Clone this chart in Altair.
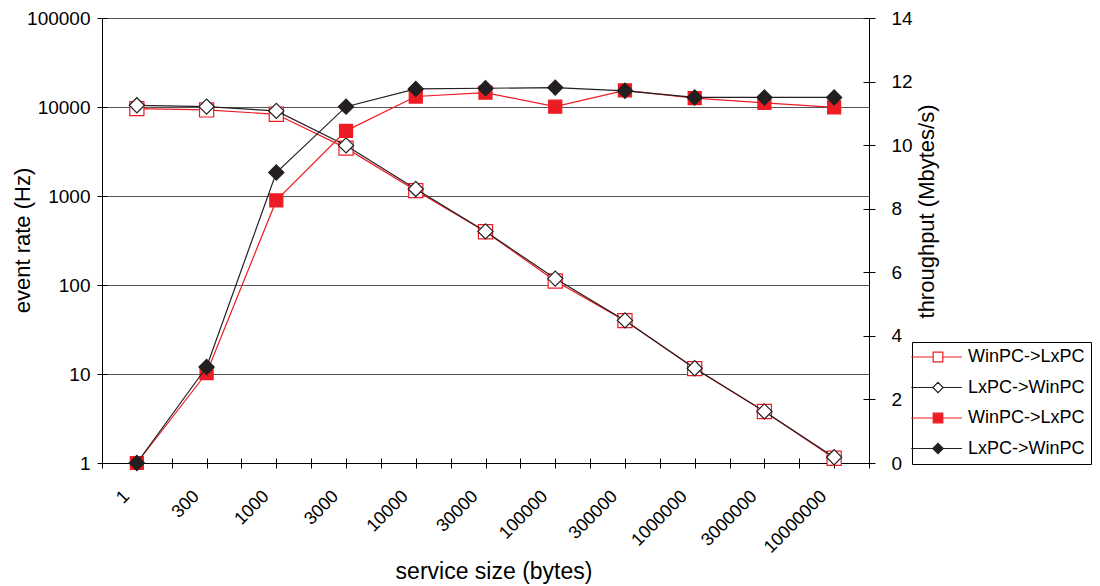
import altair as alt
import pandas as pd

# ---------------- data ----------------
sizes = ["1", "300", "1000", "3000", "10000", "30000", "100000",
         "300000", "1000000", "3000000", "10000000"]
rate_win_lx = [9600, 9270, 8280, 3450, 1150, 397, 111, 39.8, 11.5, 3.79, 1.13]
rate_lx_win = [10450, 10100, 9040, 3700, 1200, 400, 118, 40.0, 11.6, 3.80, 1.16]
tput_win_lx = [0, 2.83, 8.26, 10.45, 11.53, 11.65, 11.21, 11.72, 11.48, 11.33, 11.19]
tput_lx_win = [0, 3.02, 9.14, 11.21, 11.77, 11.79, 11.81, 11.71, 11.50, 11.50, 11.50]
legend_keys = ["a", "b", "c", "d"]
legend_labels = ["WinPC->LxPC", "LxPC->WinPC", "WinPC->LxPC", "LxPC->WinPC"]
rate_ticks = [1, 10, 100, 1000, 10000, 100000]
tput_ticks = [0, 2, 4, 6, 8, 10, 12, 14]

RED = "#ED1C24"
BLK = "#231F20"
FONT = "Liberation Sans"
W, H = 767, 445

df = pd.DataFrame({
    "idx": list(range(len(sizes))),
    "rw": rate_win_lx, "rl": rate_lx_win,
    "tw": tput_win_lx, "tl": tput_lx_win,
})

n = len(sizes)
label_js = "[" + ",".join(f"'{s}'" for s in sizes) + "]"
x_axis = alt.Axis(
    values=[i * 0.5 - 0.5 for i in range(2 * n + 1)],
    labelExpr=f"datum.value % 1 == 0 ? {label_js}[datum.value] : ''",
    labelAngle=315, labelAlign="right", labelBaseline="top",
    labelFont=FONT, labelFontSize=18, labelColor="black",
    labelPadding=19, labelOffset=-17,
    labelOverlap=False, labelFlush=False, labelBound=False,
    offset=-5, tickSize=10, tickColor="black", domain=False,
    grid=True, gridColor="black", gridWidth=1,
    gridOpacity=alt.condition(f"datum.value == -0.5 || datum.value == {n - 0.5}",
                              alt.value(1), alt.value(0)),
    title="service size (bytes)", titleFont=FONT, titleFontSize=23,
    titleFontWeight="normal", titleColor="black",
    titleX=391.5, titleY=120, titleAlign="center", titleBaseline="alphabetic",
)
x_enc = alt.X("idx:Q", scale=alt.Scale(domain=[-0.5, n - 0.5], nice=False, zero=False), axis=x_axis)

rate_axis = alt.Axis(
    values=rate_ticks, format="d", grid=True, gridWidth=1,
    gridColor=alt.condition("datum.value == 1", alt.value("black"), alt.value("#555555")),
    offset=-5, tickSize=10, tickColor="black", domain=False,
    labelFont=FONT, labelFontSize=19, labelColor="black", labelPadding=7,
    title="event rate (Hz)", titleFont=FONT, titleFontSize=22,
    titleFontWeight="normal", titleColor="black", titleAngle=270,
    titleX=-85, titleY=222, titleAlign="center", titleBaseline="middle",
)
rate_scale = alt.Scale(type="log", domain=[1, 100000], nice=False)

tput_axis = alt.Axis(
    orient="right", values=tput_ticks, grid=False,
    offset=-6, tickSize=12, tickColor="black", domain=False,
    labelFont=FONT, labelFontSize=19, labelColor="black", labelPadding=16,
    title="throughput (Mbytes/s)", titleFont=FONT, titleFontSize=22,
    titleFontWeight="normal", titleColor="black", titleAngle=270,
    titleX=63, titleY=193, titleAlign="center", titleBaseline="middle",
)
tput_scale = alt.Scale(domain=[0, 14], nice=False, zero=True)

base = alt.Chart(df)


def series(field, scale, axis, color, shape, filled, size):
    y = alt.Y(f"{field}:Q", scale=scale, axis=axis)
    line = base.mark_line(color=color, strokeWidth=1.2).encode(x=x_enc, y=y)
    pts = base.mark_point(
        shape=shape, filled=True, fill=(color if filled else "white"),
        stroke=color, strokeWidth=1.2, size=size, opacity=1,
    ).encode(x=x_enc, y=y)
    return [line, pts]


rate_layer = alt.layer(
    *series("rw", rate_scale, rate_axis, RED, "square", False, 200),
    *series("rl", rate_scale, rate_axis, BLK, "diamond", False, 230),
)
tput_layer = alt.layer(
    *series("tw", tput_scale, tput_axis, RED, "square", True, 170),
    *series("tl", tput_scale, tput_axis, BLK, "diamond", True, 230),
)

# legend: line with marker, drawn as custom symbol paths
p_sq = "M-1.35,0H1.4M2.6,0H5M1.4,-0.6H2.6V0.6H1.4Z"
p_di = "M-1.35,0H1.35M2.65,0H5M2,-0.65L2.65,0L2,0.65L1.35,0Z"
legend_paths = [p_sq, p_di, p_sq, p_di]
lab_js = "[" + ",".join(f"'{s}'" for s in legend_labels) + "]"
key_js = "[" + ",".join(f"'{s}'" for s in legend_keys) + "]"
leg = alt.Legend(
    orient="none", legendX=810, legendY=324, title=None,
    strokeColor="black", fillColor="white", padding=6,
    labelFont=FONT, labelFontSize=18, labelColor="black",
    symbolSize=256, symbolOffset=-5, labelOffset=37,
    labelExpr=f"{lab_js}[indexof({key_js}, datum.value)]",
    symbolStrokeWidth=1.2, rowPadding=12.5,
)
leg_df = pd.DataFrame({"key": legend_keys})
legend_layer = alt.Chart(leg_df).transform_filter("false").mark_point(
    filled=True, strokeWidth=1.2, size=256, opacity=1
).encode(
    shape=alt.Shape("key:N", scale=alt.Scale(domain=legend_keys, range=legend_paths), legend=leg),
    stroke=alt.Stroke("key:N", scale=alt.Scale(domain=legend_keys, range=[RED, BLK, RED, BLK]), legend=leg),
    fill=alt.Fill("key:N", scale=alt.Scale(domain=legend_keys, range=["white", "white", RED, BLK]), legend=leg),
)

chart = alt.layer(rate_layer, tput_layer, legend_layer).resolve_scale(
    y="independent"
).properties(
    width=W, height=H,
    padding={"left": 94, "top": 10, "right": 223, "bottom": 123},
    autosize=alt.AutoSizeParams(type="none"),
    background="white",
).configure_view(strokeWidth=0)

chart.save("out.html", embed_options={"renderer": "svg", "actions": False})
